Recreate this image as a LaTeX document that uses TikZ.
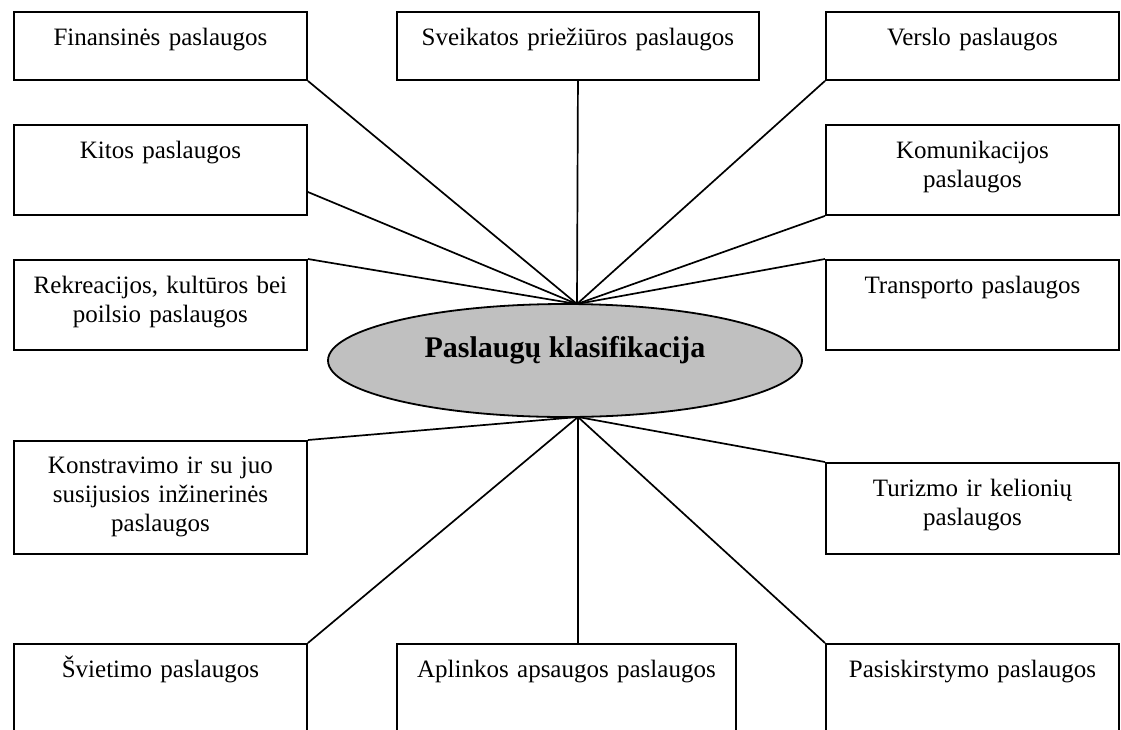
\documentclass[tikz,border=0pt]{standalone}
\usepackage{fontspec}
\setmainfont{Liberation Serif}
\usetikzlibrary{shapes.geometric,calc}
\definecolor{hubfill}{RGB}{192,192,192}
\begin{document}
\begin{tikzpicture}[x=1pt,y=-1pt,
  box/.style={draw,line width=1.9pt,rectangle,anchor=north west,inner sep=0pt},
  lbl/.style={font=\fontsize{25}{29}\selectfont,align=center,anchor=base,inner sep=0pt,text width=#1},
  lbl/.default=280pt,
  link/.style={line width=1.7pt},
  hub/.style={ellipse,draw,line width=1.8pt,fill=hubfill,inner sep=0pt,minimum width=474pt,minimum height=113pt}
]
\useasboundingbox (0,0) rectangle (1121,729);
\clip (0,0) rectangle (1121,729);

% service boxes
\node[box,minimum width=293pt,minimum height=68pt] (fin) at (13,11) {};
\node[box,minimum width=293pt,minimum height=90pt] (kit) at (13,124) {};
\node[box,minimum width=293pt,minimum height=90pt] (rek) at (13,259) {};
\node[box,minimum width=293pt,minimum height=113pt] (kon) at (13,440) {};
\node[box,minimum width=293pt,minimum height=120pt] (svi) at (13,643) {};
\node[box,minimum width=362pt,minimum height=68pt] (sve) at (396,11) {};
\node[box,minimum width=339pt,minimum height=120pt] (apl) at (396,643) {};
\node[box,minimum width=293pt,minimum height=68pt] (ver) at (825,11) {};
\node[box,minimum width=293pt,minimum height=90pt] (kom) at (825,124) {};
\node[box,minimum width=293pt,minimum height=90pt] (tra) at (825,259) {};
\node[box,minimum width=293pt,minimum height=91pt] (tur) at (825,462) {};
\node[box,minimum width=293pt,minimum height=120pt] (pas) at (825,643) {};

% box captions, first baseline 34 below the top edge
\node[lbl] (finT) at ($(fin.north)+(0,34)$) {Finansinės paslaugos};
\node[lbl] (kitT) at ($(kit.north)+(0,34)$) {Kitos paslaugos};
\node[lbl] (rekT) at ($(rek.north)+(0,34)$) {Rekreacijos, kultūros bei\\poilsio paslaugos};
\node[lbl] (konT) at ($(kon.north)+(0,33)$) {Konstravimo ir su juo\\susijusios inžinerinės\\paslaugos};
\node[lbl] (sviT) at ($(svi.north)+(0,34)$) {Švietimo paslaugos};
\node[lbl=340pt] (sveT) at ($(sve.north)+(0,34)$) {Sveikatos priežiūros paslaugos};
\node[lbl=320pt] (aplT) at ($(apl.north)+(0,34)$) {Aplinkos apsaugos paslaugos};
\node[lbl] (verT) at ($(ver.north)+(0,34)$) {Verslo paslaugos};
\node[lbl] (komT) at ($(kom.north)+(0,34)$) {Komunikacijos\\paslaugos};
\node[lbl] (traT) at ($(tra.north)+(0,34)$) {Transporto paslaugos};
\node[lbl] (turT) at ($(tur.north)+(0,34)$) {Turizmo ir kelionių\\paslaugos};
\node[lbl] (pasT) at ($(pas.north)+(0,34)$) {Pasiskirstymo paslaugos};

% meeting points on the central ellipse
\coordinate (top) at (577,304);
\coordinate (bot) at (578,417);
\coordinate (kitE) at ($(kit.north east)+(0,68)$);

% connectors
\draw[link] (fin.south east) -- (top);
\draw[link] (kitE) -- (top);
\draw[link] (rek.north east) -- (top);
\draw[link] (sve.south) -- (top);
\draw[link] (ver.south west) -- (top);
\draw[link] (kom.south west) -- (top);
\draw[link] (tra.north west) -- (top);
\draw[link] (kon.north east) -- (bot);
\draw[link] (svi.north east) -- (bot);
\draw[link] (bot |- apl.north) -- (bot);
\draw[link] (pas.north west) -- (bot);
\draw[link] (tur.north west) -- (bot);

% central ellipse
\node[hub] (core) at (565,360.5) {};
\node[font=\fontsize{30}{34}\selectfont\bfseries,anchor=base,inner sep=0pt] (coreT) at (565,357) {Paslaugų klasifikacija};
\end{tikzpicture}
\end{document}
